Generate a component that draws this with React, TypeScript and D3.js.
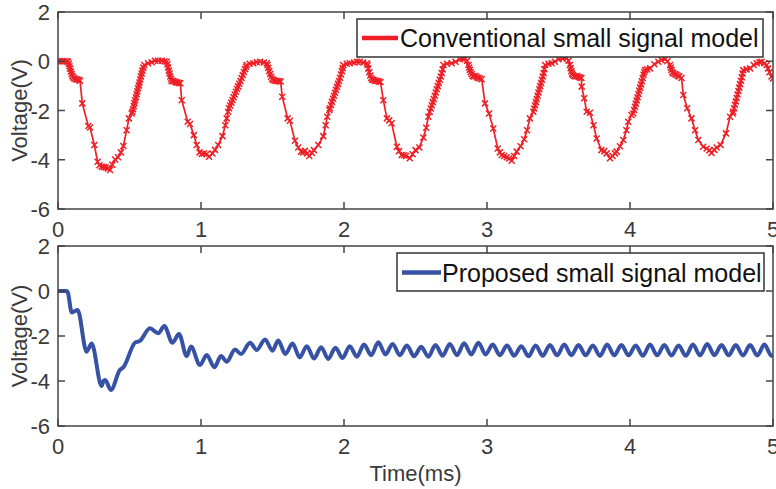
import React from "react";
import * as d3 from "d3";

const xTicks = [0, 1, 2, 3, 4, 5];
const yTicks = [-6, -4, -2, 0, 2];

// Conventional small signal model (t in ms, V)
const convT = [
  0, 0.015, 0.03, 0.045, 0.06, 0.07,
  0.075, 0.08, 0.085, 0.09, 0.095, 0.1, 0.107, 0.115, 0.125, 0.135, 0.145, 0.154,
  0.17, 0.212, 0.224, 0.254, 0.277, 0.29, 0.305, 0.32, 0.333, 0.348, 0.364, 0.38, 0.399, 0.42, 0.44, 0.457, 0.48, 0.496, 0.515,
  0.52, 0.525, 0.53, 0.535, 0.54, 0.545, 0.55, 0.555, 0.56, 0.565, 0.57, 0.575, 0.58, 0.585, 0.59, 0.597, 0.604,
  0.63, 0.655, 0.678, 0.7, 0.725, 0.745, 0.76,
  0.765, 0.77, 0.775, 0.78, 0.785, 0.79, 0.795, 0.805, 0.815, 0.825, 0.835, 0.845, 0.855,
  0.865, 0.907, 0.923, 0.95, 0.97, 0.99, 1.005, 1.02, 1.04, 1.056, 1.08, 1.098, 1.12, 1.15, 1.17, 1.18, 1.19,
  1.196, 1.204, 1.212, 1.22, 1.228, 1.236, 1.244, 1.252, 1.26, 1.268, 1.276, 1.284, 1.292, 1.3, 1.308, 1.315, 1.32,
  1.34, 1.366, 1.39, 1.413, 1.44, 1.46,
  1.465, 1.47, 1.477, 1.484, 1.49, 1.497, 1.505, 1.515, 1.525, 1.535, 1.545, 1.557,
  1.568, 1.606, 1.622, 1.657, 1.68, 1.7, 1.715, 1.727, 1.742, 1.757, 1.775, 1.79, 1.82, 1.855, 1.872, 1.883, 1.897,
  1.902, 1.909, 1.916, 1.923, 1.93, 1.937, 1.944, 1.951, 1.958, 1.965, 1.972, 1.979, 1.986, 1.991, 1.995,
  2.02, 2.04, 2.07, 2.09, 2.11, 2.135, 2.16,
  2.165, 2.17, 2.177, 2.184, 2.19, 2.197, 2.205, 2.215, 2.225, 2.235, 2.245, 2.255,
  2.275, 2.3, 2.316, 2.333, 2.37, 2.385, 2.403, 2.42, 2.434, 2.46, 2.48, 2.5, 2.527, 2.555, 2.575, 2.59,
  2.6, 2.607, 2.614, 2.621, 2.628, 2.635, 2.642, 2.649, 2.656, 2.663, 2.67, 2.677, 2.684, 2.69, 2.695,
  2.72, 2.753, 2.78, 2.81, 2.83, 2.846, 2.86, 2.87,
  2.875, 2.88, 2.886, 2.893, 2.9, 2.91, 2.92, 2.93, 2.94, 2.95, 2.963,
  2.986, 3.014, 3.044, 3.075, 3.09, 3.103, 3.12, 3.138, 3.155, 3.173, 3.19, 3.208, 3.235, 3.26, 3.28, 3.3,
  3.324, 3.33, 3.336, 3.342, 3.348, 3.354, 3.36, 3.366, 3.372, 3.378, 3.384, 3.39, 3.396, 3.401, 3.406,
  3.43, 3.452, 3.475, 3.5, 3.53, 3.557, 3.57, 3.58,
  3.585, 3.59, 3.595, 3.6, 3.61, 3.62, 3.63, 3.64, 3.65, 3.66,
  3.662, 3.68, 3.697, 3.72, 3.745, 3.767, 3.8, 3.82, 3.837, 3.86, 3.878, 3.895, 3.907, 3.93, 3.953, 3.975, 3.988, 4.01,
  4.023, 4.029, 4.035, 4.041, 4.047, 4.053, 4.059, 4.065, 4.071, 4.077, 4.083, 4.089, 4.095, 4.1, 4.105,
  4.12, 4.14, 4.17, 4.198, 4.22, 4.245, 4.262, 4.28,
  4.285, 4.29, 4.296, 4.303, 4.315, 4.325, 4.335, 4.345, 4.36,
  4.373, 4.4, 4.43, 4.455, 4.478, 4.512, 4.536, 4.555, 4.57, 4.59, 4.606, 4.634, 4.671, 4.7, 4.718,
  4.722, 4.728, 4.734, 4.74, 4.746, 4.752, 4.758, 4.764, 4.77, 4.776, 4.782, 4.787, 4.792,
  4.815, 4.84, 4.865, 4.886, 4.905, 4.92, 4.94, 4.956, 4.965, 4.975, 4.99, 5.0,
];
const convV = [
  0, 0, 0, 0, 0, -0.02,
  -0.1, -0.2, -0.3, -0.42, -0.52, -0.6, -0.66, -0.7, -0.73, -0.74, -0.76, -0.79,
  -1.71, -2.63, -2.69, -3.4, -4.08, -4.22, -4.28, -4.3, -4.31, -4.35, -4.42, -4.2, -3.99, -3.9, -3.7, -3.44, -2.8, -2.32, -2.12,
  -2.05, -1.95, -1.82, -1.7, -1.58, -1.46, -1.34, -1.22, -1.1, -0.98, -0.86, -0.74, -0.62, -0.5, -0.38, -0.26, -0.15,
  -0.08, -0.04, 0.02, 0.02, 0.02, 0.0, -0.02,
  -0.12, -0.25, -0.38, -0.5, -0.62, -0.72, -0.8, -0.8, -0.82, -0.85, -0.86, -0.88, -0.89,
  -1.58, -2.46, -2.55, -3.0, -3.4, -3.7, -3.77, -3.75, -3.77, -3.88, -3.75, -3.6, -3.4, -3.04, -2.6, -2.32, -2.05,
  -1.91, -1.8, -1.68, -1.57, -1.46, -1.35, -1.24, -1.13, -1.02, -0.91, -0.8, -0.68, -0.56, -0.44, -0.32, -0.22, -0.15,
  -0.1, -0.08, -0.04, -0.02, -0.05, -0.08,
  -0.15, -0.27, -0.4, -0.52, -0.63, -0.72, -0.76, -0.78, -0.8, -0.8, -0.81, -0.82,
  -1.44, -2.32, -2.42, -3.23, -3.5, -3.67, -3.7, -3.64, -3.75, -3.85, -3.72, -3.61, -3.4, -3.04, -2.6, -2.25, -1.98,
  -1.91, -1.78, -1.65, -1.52, -1.4, -1.28, -1.16, -1.04, -0.92, -0.8, -0.67, -0.54, -0.4, -0.28, -0.15,
  -0.1, -0.08, -0.05, -0.02, -0.02, -0.05, -0.08,
  -0.15, -0.3, -0.45, -0.58, -0.68, -0.74, -0.76, -0.78, -0.8, -0.8, -0.82, -0.84,
  -1.58, -2.32, -2.4, -2.52, -3.47, -3.65, -3.81, -3.82, -3.85, -3.94, -3.78, -3.61, -3.5, -3.1, -2.7, -2.25,
  -2.05, -1.92, -1.79, -1.66, -1.53, -1.4, -1.27, -1.14, -1.01, -0.88, -0.75, -0.62, -0.48, -0.33, -0.15,
  -0.1, -0.08, -0.02, 0.08, 0.1, 0.12, 0.02, -0.15,
  -0.25, -0.35, -0.45, -0.53, -0.6, -0.62, -0.6, -0.65, -0.68, -0.7, -0.73,
  -1.71, -2.12, -2.73, -3.54, -3.7, -3.81, -3.85, -3.9, -3.95, -4.04, -3.85, -3.67, -3.45, -3.17, -2.8, -2.32,
  -2.05, -1.92, -1.79, -1.66, -1.53, -1.4, -1.27, -1.14, -1.01, -0.88, -0.75, -0.62, -0.48, -0.32, -0.15,
  -0.1, -0.08, -0.02, 0.08, 0.1, 0.12, 0.02, -0.15,
  -0.28, -0.4, -0.5, -0.56, -0.6, -0.62, -0.6, -0.64, -0.66, -0.68,
  -1.03, -1.5, -2.05, -2.09, -2.6, -3.14, -3.61, -3.65, -3.74, -3.94, -3.85, -3.74, -3.67, -3.45, -3.2, -2.8, -2.46, -2.18,
  -2.12, -1.98, -1.85, -1.72, -1.59, -1.46, -1.33, -1.2, -1.07, -0.94, -0.81, -0.68, -0.55, -0.45, -0.36,
  -0.33, -0.29, -0.12, -0.02, 0.05, 0.08, 0.0, -0.15,
  -0.25, -0.35, -0.45, -0.5, -0.52, -0.55, -0.6, -0.62, -0.68,
  -1.37, -1.91, -2.32, -2.8, -3.2, -3.47, -3.54, -3.62, -3.72, -3.6, -3.5, -3.4, -2.93, -2.25, -2.12,
  -2.05, -1.91, -1.77, -1.63, -1.49, -1.35, -1.21, -1.07, -0.93, -0.79, -0.65, -0.5, -0.36,
  -0.33, -0.29, -0.15, -0.08, -0.04, -0.02, -0.08, -0.15, -0.3, -0.45, -0.62, -0.7,
];

// Proposed small signal model (t in ms, V)
const propT = [
  0, 0.03, 0.06, 0.068, 0.096, 0.115, 0.137, 0.2, 0.215, 0.235, 0.305, 0.318, 0.33, 0.37, 0.434, 0.445, 0.457,
  0.538, 0.573, 0.643, 0.7, 0.744, 0.8, 0.846, 0.9, 0.93, 0.993, 1.04, 1.093, 1.14, 1.18, 1.238, 1.28, 1.343,
  1.39, 1.448, 1.5, 1.54, 1.59, 1.64, 1.69,
  1.74, 1.79, 1.84, 1.89, 1.94, 1.99, 2.04, 2.09, 2.14, 2.19, 2.24, 2.29, 2.34, 2.39, 2.44, 2.49,
  2.54, 2.59, 2.64, 2.69, 2.74, 2.79, 2.84, 2.89, 2.94, 2.99, 3.04, 3.09, 3.14, 3.19, 3.24, 3.29,
  3.34, 3.39, 3.44, 3.49, 3.54, 3.59, 3.64, 3.69, 3.74, 3.79, 3.84, 3.89, 3.94, 3.99, 4.04, 4.09,
  4.14, 4.19, 4.24, 4.29, 4.34, 4.39, 4.44, 4.49, 4.54, 4.59, 4.64, 4.69, 4.74, 4.79, 4.84, 4.89,
  4.94, 4.99, 5.0,
];
const propV = [
  0, 0, 0, -0.05, -0.95, -0.9, -0.84, -2.7, -2.55, -2.33, -4.22, -4.0, -3.96, -4.4, -3.5, -3.45, -3.39,
  -2.3, -2.22, -1.66, -1.88, -1.56, -2.3, -1.91, -2.89, -2.47, -3.29, -2.84, -3.39, -2.89, -3.14, -2.6, -2.8, -2.3,
  -2.62, -2.15, -2.65, -2.2, -2.8, -2.33, -2.95,
  -2.45, -3.0, -2.5, -3.02, -2.52, -2.98, -2.45, -2.92, -2.38, -2.85, -2.28, -2.82, -2.35, -2.85, -2.42, -2.9,
  -2.48, -2.92, -2.4, -2.88, -2.35, -2.85, -2.32, -2.82, -2.3, -2.82, -2.38, -2.85, -2.42, -2.88, -2.45, -2.9,
  -2.42, -2.88, -2.4, -2.86, -2.38, -2.85, -2.4, -2.86, -2.42, -2.88, -2.38, -2.86, -2.4, -2.86, -2.42, -2.88,
  -2.38, -2.86, -2.4, -2.87, -2.42, -2.88, -2.38, -2.86, -2.36, -2.85, -2.4, -2.86, -2.4, -2.87, -2.4, -2.87,
  -2.38, -2.88, -2.87,
];

const W = 776;
const H = 489;
const FONT = "'Liberation Sans', Arial, Helvetica, sans-serif";
const RED = "#ee1f26";
const BLUE = "#3752a5";
const AXIS = "#444444";
const TXT = "#3a3a3a";

const x = d3.scaleLinear().domain([0, 5]).range([58, 773]);

type PanelProps = {
  y: d3.ScaleLinear<number, number>;
  id: string;
  children?: React.ReactNode;
};

function Panel({ y, id, children }: PanelProps) {
  const [x0, x1] = x.range();
  const [y0, y1] = y.range(); // bottom, top
  const tl = 7;
  return (
    <g>
      <defs>
        <clipPath id={id}>
          <rect x={x0} y={y1 - 2} width={x1 - x0} height={y0 - y1 + 4} />
        </clipPath>
      </defs>
      <g clipPath={`url(#${id})`}>{children}</g>
      <rect x={x0} y={y1} width={x1 - x0} height={y0 - y1} fill="none" stroke={AXIS} strokeWidth={1.5} />
      {xTicks.map((t) => (
        <g key={"xt" + t}>
          <line x1={x(t)} x2={x(t)} y1={y0} y2={y0 - tl} stroke={AXIS} strokeWidth={1.5} />
          <line x1={x(t)} x2={x(t)} y1={y1} y2={y1 + tl} stroke={AXIS} strokeWidth={1.5} />
          <text x={x(t)} y={y0 + 28} textAnchor="middle" fontSize={22} fill={TXT} fontFamily={FONT}>
            {t}
          </text>
        </g>
      ))}
      {yTicks.map((v) => (
        <g key={"yt" + v}>
          <line x1={x0} x2={x0 + tl} y1={y(v)} y2={y(v)} stroke={AXIS} strokeWidth={1.5} />
          <line x1={x1} x2={x1 - tl} y1={y(v)} y2={y(v)} stroke={AXIS} strokeWidth={1.5} />
          <text x={50} y={y(v) + 8} textAnchor="end" fontSize={22} fill={TXT} fontFamily={FONT}>
            {v}
          </text>
        </g>
      ))}
      <text
        transform={`translate(27, ${(y0 + y1) / 2}) rotate(-90)`}
        textAnchor="middle"
        fontSize={22}
        fill={TXT}
        fontFamily={FONT}
      >
        Voltage(V)
      </text>
    </g>
  );
}

export default function App() {
  const yTop = d3.scaleLinear().domain([-6, 2]).range([209, 12]);
  const yBot = d3.scaleLinear().domain([-6, 2]).range([426, 246]);

  const convPts: [number, number][] = convT.map((t, i) => [t, convV[i]]);
  const propPts: [number, number][] = propT.map((t, i) => [t, propV[i]]);

  const convLine = d3
    .line<[number, number]>()
    .x((d) => x(d[0]))
    .y((d) => yTop(d[1]));
  const propLine = d3
    .line<[number, number]>()
    .x((d) => x(d[0]))
    .y((d) => yBot(d[1]))
    .curve(d3.curveMonotoneX);

  const ms = 3;

  return (
    <svg
      width={W}
      height={H}
      style={{ position: "absolute", left: 0, top: 0, background: "#fff" }}
      fontFamily={FONT}
    >
      <rect x={0} y={0} width={W} height={H} fill="#fff" />
      <Panel y={yTop} id="clipTop">
        <path d={convLine(convPts) || ""} fill="none" stroke={RED} strokeWidth={1.7} />
        {convPts.map((d, i) => {
          const cx = x(d[0]);
          const cy = yTop(d[1]);
          return (
            <path
              key={i}
              d={`M${cx - ms},${cy - ms}L${cx + ms},${cy + ms}M${cx - ms},${cy + ms}L${cx + ms},${cy - ms}`}
              stroke={RED}
              strokeWidth={1.5}
              fill="none"
            />
          );
        })}
      </Panel>
      <Panel y={yBot} id="clipBot">
        <path d={propLine(propPts) || ""} fill="none" stroke={BLUE} strokeWidth={4} strokeLinejoin="round" />
      </Panel>

      {/* Legends */}
      <g>
        <rect x={357} y={19} width={406} height={38} fill="#fff" stroke="#333" strokeWidth={1.5} />
        <line x1={362} x2={398} y1={38} y2={38} stroke={RED} strokeWidth={4.5} />
        <text x={400} y={47} fontSize={25} fill="#111" fontFamily={FONT}>
          Conventional small signal model
        </text>
      </g>
      <g>
        <rect x={397} y={253} width={367} height={38} fill="#fff" stroke="#333" strokeWidth={1.5} />
        <line x1={402} x2={441} y1={272.5} y2={272.5} stroke={BLUE} strokeWidth={4.5} />
        <text x={442} y={281.5} fontSize={25} fill="#111" fontFamily={FONT}>
          Proposed small signal model
        </text>
      </g>

      <text x={415.5} y={481} textAnchor="middle" fontSize={22} fill={TXT} fontFamily={FONT}>
        Time(ms)
      </text>
    </svg>
  );
}
